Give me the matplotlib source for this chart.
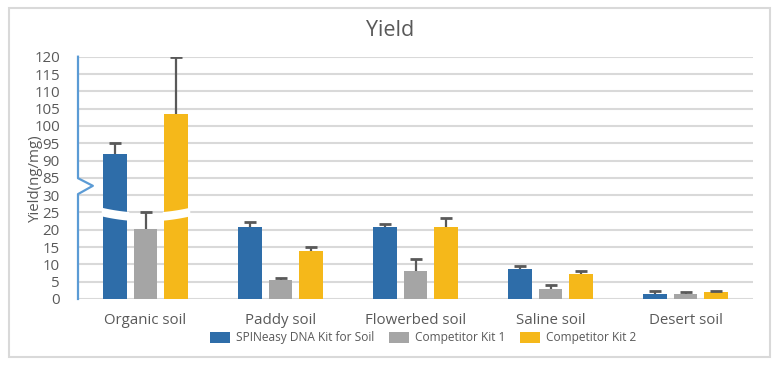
import matplotlib
matplotlib.use("Agg")
import matplotlib.pyplot as plt
import numpy as np
from matplotlib.patches import Rectangle

plt.rcParams['font.family'] = ['Open Sans', 'DejaVu Sans']

# data
soils = ['Organic soil', 'Paddy soil', 'Flowerbed soil', 'Saline soil', 'Desert soil']
kits = ['SPINeasy DNA Kit for Soil', 'Competitor Kit 1', 'Competitor Kit 2']
spin_yield = [92, 20.9, 20.9, 8.75, 1.5]
spin_top = [95, 22.2, 21.8, 9.4, 2.3]
comp1_yield = [20.1, 5.5, 8.1, 3.0, 1.5]
comp1_top = [25, 6.2, 11.5, 4.0, 1.9]
comp2_yield = [103.5, 13.8, 20.9, 7.3, 2.0]
comp2_top = [120, 15.1, 23.3, 8.0, 2.4]
low_ticks = [0, 5, 10, 15, 20, 25, 30]
high_ticks = [85, 90, 95, 100, 105, 110, 115, 120]

colors = ['#2E6DA9', '#A5A5A5', '#F5B81A']
text_c = '#595959'

# broken axis: everything above the gap is shifted down by 50
BREAK = 32.5
SHIFT = 50


def to_pos(v):
    v = np.asarray(v, dtype=float)
    return np.where(v > BREAK, v - SHIFT, v)


fig = plt.figure(figsize=(7.81, 3.65), dpi=100)
ax = fig.add_axes([78 / 781, 66 / 365, 675 / 781, 242.3 / 365])

x = np.arange(len(soils))
width = 0.174
off = 0.226
series = [(spin_yield, spin_top), (comp1_yield, comp1_top), (comp2_yield, comp2_top)]

ticks_pos = to_pos(low_ticks + high_ticks)
for t in ticks_pos:
    ax.axhline(t, color='#D9D9D9', lw=1.5, zorder=0)

for i, (vals, tops) in enumerate(series):
    xs = x + (i - 1) * off
    h = to_pos(vals)
    top = to_pos(tops)
    ax.bar(xs, h, width, color=colors[i], label=kits[i], zorder=2)
    # upper error bar only
    ax.vlines(xs, h, top, color='#595959', lw=1.6, zorder=3)
    ax.plot(xs, top, ls='none', marker='_', ms=8, mew=2.0, color='#595959', zorder=3)

    # white wavy gap on bars that cross the break
    for xi, v in zip(xs, vals):
        if v > BREAK:
            gx = np.linspace(xi - width / 2 - 0.015, xi + width / 2 + 0.015, 40)
            dx = (gx - x[int(round(xi))]) / 0.32
            c = 23.8 + 1.4 * dx ** 2
            ax.fill_between(gx, c - 1.25, c + 1.25, color='white', lw=0, zorder=4)

ax.set_xlim(-0.5, len(soils) - 0.5)
ax.set_ylim(0, 70)
ax.set_yticks(ticks_pos)
ax.set_yticklabels([str(t) for t in low_ticks + high_ticks])
ax.set_xticks(x)
ax.set_xticklabels(soils)
ax.tick_params(axis='both', length=0, colors=text_c, labelsize=10.8)
ax.tick_params(axis='y', pad=13)
ax.tick_params(axis='x', pad=10)
for s in ax.spines.values():
    s.set_visible(False)

# y axis line with zigzag break marker
ax_x = -0.5
zx = [ax_x, ax_x, ax_x + 0.11, ax_x, ax_x]
zy = [0, 30.3, 32.7, 34.9, 70]
ax.plot(zx, zy, color='#5B9BD5', lw=1.6, clip_on=False, zorder=5)

ax.set_ylabel('Yield(ng/mg)', color=text_c, fontsize=10.8)
ax.yaxis.set_label_coords(-0.052, 0.5)
fig.text(390 / 781, 1 - 30 / 365, 'Yield', ha='center', va='center',
         fontsize=15.5, color=text_c)

fig.legend(loc='center', bbox_to_anchor=(423 / 781, 1 - 338 / 365), ncol=3,
           frameon=False, fontsize=8.6, handlelength=1.7, handleheight=1.0,
           columnspacing=1.2, handletextpad=0.5, labelcolor=text_c)

fig.patches.append(Rectangle((8.5 / 781, 8.5 / 365), 761.5 / 781, 348.5 / 365,
                             transform=fig.transFigure, fill=False,
                             edgecolor='#D9D9D9', lw=1.5))

fig.savefig('out.png', dpi=100)
